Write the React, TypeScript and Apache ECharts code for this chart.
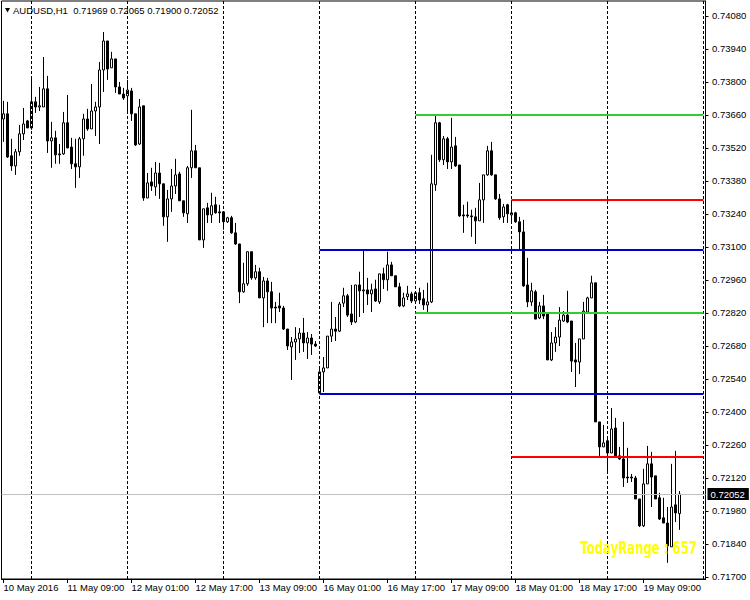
import React, { useEffect, useRef } from "react";
import * as echarts from "echarts";

const symbol = "AUDUSD";
const timeframe = "H1";
const firstBarUtc = Date.UTC(2016, 4, 10, 17);
const weekendSkipFromBar = 79;
const weekendSkipHours = 48;
const emptyBarsRight = 6;

const openP = [
  0.73643, 0.73665, 0.73487, 0.73444, 0.73504, 0.7358, 0.73635, 0.73605, 0.73716, 0.73694,
  0.73694, 0.73771, 0.7355, 0.73563, 0.73495, 0.73495, 0.73627, 0.73524, 0.73453, 0.7344,
  0.73559, 0.73643, 0.73601, 0.73677, 0.73694, 0.73851, 0.73974, 0.7386, 0.73898, 0.73779,
  0.73749, 0.73741, 0.73762, 0.73665, 0.73537, 0.73699, 0.73308, 0.73376, 0.73355, 0.73414,
  0.73368, 0.73228, 0.73304, 0.73359, 0.7341, 0.73296, 0.73241, 0.73436, 0.73508, 0.73436,
  0.7313, 0.73266, 0.73236, 0.73279, 0.73249, 0.73249, 0.73207, 0.73224, 0.7316, 0.73113,
  0.7291, 0.72944, 0.7308, 0.72969, 0.72995, 0.72884, 0.72956, 0.7291, 0.72845, 0.7285,
  0.72841, 0.72752, 0.72676, 0.72697, 0.7271, 0.72735, 0.72693, 0.72714, 0.72688, 0.72481,
  0.7257, 0.72587, 0.72722, 0.72752, 0.72743, 0.72862, 0.72893, 0.72816, 0.72782, 0.72939,
  0.72918, 0.72918, 0.72901, 0.72922, 0.72867, 0.72986, 0.72961, 0.73024, 0.72978, 0.72931,
  0.7285, 0.72889, 0.72901, 0.72871, 0.72906, 0.7288, 0.72854, 0.72867, 0.73364, 0.73627,
  0.7347, 0.73559, 0.73461, 0.73529, 0.73448, 0.73236, 0.73236, 0.73232, 0.73228, 0.73211,
  0.733, 0.73406, 0.73508, 0.73406, 0.73304, 0.73228, 0.73279, 0.73236, 0.73245, 0.73207,
  0.73164, 0.72939, 0.72867, 0.7291, 0.72799, 0.7285, 0.72816, 0.72621, 0.72693, 0.72718,
  0.72786, 0.72811, 0.72786, 0.72621, 0.72612, 0.7271, 0.72824, 0.72884, 0.72948, 0.72358,
  0.72252, 0.72278, 0.72226, 0.72332, 0.72214, 0.72201, 0.72124, 0.72124, 0.7212, 0.72031,
  0.71917, 0.72095, 0.7218, 0.72129, 0.72036, 0.71951, 0.71929, 0.71828, 0.72006, 0.71969,
];

const closeP = [
  0.73665, 0.73482, 0.73444, 0.73504, 0.7358, 0.73622, 0.73605, 0.73716, 0.73694, 0.73699,
  0.73771, 0.7355, 0.73563, 0.73491, 0.73491, 0.73627, 0.7352, 0.73453, 0.7344, 0.73559,
  0.73643, 0.73601, 0.73677, 0.73694, 0.73851, 0.73974, 0.73855, 0.73898, 0.73779, 0.73749,
  0.73732, 0.73766, 0.73665, 0.73533, 0.73694, 0.73308, 0.73372, 0.73359, 0.73414, 0.73368,
  0.73228, 0.73304, 0.73359, 0.73406, 0.73296, 0.73245, 0.73436, 0.73508, 0.73436, 0.7313,
  0.73262, 0.73236, 0.73275, 0.73245, 0.73245, 0.73207, 0.73224, 0.7316, 0.73113, 0.7291,
  0.72944, 0.7308, 0.72969, 0.72995, 0.72884, 0.72956, 0.7291, 0.72841, 0.72841, 0.72841,
  0.72752, 0.7268, 0.72697, 0.7271, 0.72735, 0.72693, 0.72714, 0.72688, 0.7268, 0.7257,
  0.72587, 0.72722, 0.72752, 0.72743, 0.72858, 0.72893, 0.72811, 0.72782, 0.72939, 0.72914,
  0.72914, 0.72901, 0.72918, 0.72871, 0.72986, 0.72961, 0.73024, 0.72978, 0.72931, 0.7285,
  0.72884, 0.72901, 0.72871, 0.72906, 0.72875, 0.72854, 0.72867, 0.73368, 0.73627, 0.7347,
  0.73559, 0.73461, 0.73524, 0.73444, 0.73232, 0.73232, 0.73232, 0.73228, 0.73211, 0.733,
  0.73406, 0.73508, 0.73406, 0.73304, 0.73224, 0.7327, 0.73241, 0.73245, 0.73207, 0.73164,
  0.72935, 0.72867, 0.72914, 0.72794, 0.7285, 0.72807, 0.72621, 0.72693, 0.72718, 0.7279,
  0.72811, 0.72782, 0.72616, 0.72612, 0.7271, 0.72828, 0.72884, 0.72948, 0.72358, 0.72252,
  0.72269, 0.72226, 0.72328, 0.72209, 0.72201, 0.7212, 0.7212, 0.7212, 0.72031, 0.71917,
  0.72095, 0.7218, 0.72124, 0.72031, 0.71946, 0.71929, 0.71832, 0.71997, 0.71972, 0.72052,
];

const highP = [
  0.7372, 0.73716, 0.73559, 0.73516, 0.73618, 0.7369, 0.73639, 0.73813, 0.73737, 0.73779,
  0.73906, 0.73826, 0.73631, 0.73593, 0.73537, 0.73673, 0.73745, 0.73563, 0.73559, 0.73567,
  0.73665, 0.73686, 0.73792, 0.73716, 0.73885, 0.74012, 0.73974, 0.73928, 0.73898, 0.738,
  0.73775, 0.73809, 0.73775, 0.73665, 0.73728, 0.73699, 0.73414, 0.73436, 0.73461, 0.73457,
  0.73368, 0.73342, 0.73431, 0.73474, 0.73419, 0.73296, 0.73444, 0.73682, 0.73533, 0.73436,
  0.73262, 0.73287, 0.7333, 0.73313, 0.73279, 0.73249, 0.73228, 0.73232, 0.73202, 0.73113,
  0.73033, 0.7308, 0.7308, 0.73024, 0.73012, 0.72973, 0.72969, 0.72952, 0.72867, 0.72906,
  0.7285, 0.72752, 0.72718, 0.7276, 0.72756, 0.72799, 0.72739, 0.72731, 0.72701, 0.72591,
  0.72633, 0.72722, 0.72867, 0.72803, 0.72867, 0.72927, 0.72901, 0.72939, 0.72939, 0.72995,
  0.73087, 0.72969, 0.72944, 0.72961, 0.72986, 0.73012, 0.7308, 0.73037, 0.72978, 0.72948,
  0.72906, 0.72935, 0.7291, 0.72906, 0.72927, 0.72918, 0.72948, 0.73491, 0.7366, 0.73631,
  0.73571, 0.73567, 0.73648, 0.73567, 0.73448, 0.73279, 0.73292, 0.73258, 0.73266, 0.73372,
  0.73406, 0.73529, 0.73546, 0.73406, 0.73325, 0.73283, 0.73283, 0.73299, 0.73249, 0.73228,
  0.73215, 0.73054, 0.72948, 0.72918, 0.72867, 0.72897, 0.72816, 0.72739, 0.7276, 0.72845,
  0.72828, 0.72914, 0.72786, 0.72693, 0.7271, 0.72867, 0.72889, 0.72978, 0.72948, 0.72358,
  0.72345, 0.7229, 0.72417, 0.72375, 0.72252, 0.72358, 0.72248, 0.72137, 0.72129, 0.72031,
  0.72159, 0.72256, 0.72231, 0.72129, 0.72057, 0.72036, 0.71997, 0.7218, 0.72235, 0.72065,
];

const lowP = [
  0.73546, 0.73478, 0.73423, 0.73406, 0.73487, 0.73554, 0.73605, 0.73597, 0.73669, 0.73677,
  0.73694, 0.73499, 0.73436, 0.73453, 0.73453, 0.73491, 0.7352, 0.73431, 0.73351, 0.73393,
  0.73487, 0.73593, 0.73601, 0.73571, 0.73537, 0.73758, 0.73809, 0.7386, 0.73754, 0.73749,
  0.73724, 0.73673, 0.73635, 0.73529, 0.73533, 0.73296, 0.73308, 0.73338, 0.73317, 0.73304,
  0.7319, 0.73122, 0.73249, 0.73325, 0.73296, 0.73228, 0.73202, 0.73393, 0.73436, 0.7313,
  0.73096, 0.73202, 0.73202, 0.73241, 0.73202, 0.73173, 0.73202, 0.73156, 0.73109, 0.72862,
  0.72906, 0.72935, 0.72961, 0.72961, 0.72884, 0.7276, 0.72777, 0.72777, 0.72777, 0.72824,
  0.72748, 0.72663, 0.72536, 0.72621, 0.7265, 0.72655, 0.72625, 0.72642, 0.72676, 0.72476,
  0.72485, 0.72587, 0.72697, 0.72701, 0.72739, 0.72845, 0.72803, 0.72769, 0.72777, 0.72803,
  0.7282, 0.72854, 0.72824, 0.72867, 0.72858, 0.72922, 0.72914, 0.72978, 0.72931, 0.72845,
  0.72845, 0.72875, 0.72862, 0.72862, 0.72858, 0.72833, 0.7282, 0.72862, 0.73338, 0.73461,
  0.73448, 0.73431, 0.73431, 0.7344, 0.73228, 0.7316, 0.73224, 0.73143, 0.73113, 0.73211,
  0.73202, 0.73402, 0.73402, 0.733, 0.73215, 0.73202, 0.73202, 0.73207, 0.73202, 0.73088,
  0.72931, 0.72845, 0.7285, 0.72794, 0.72794, 0.72794, 0.72621, 0.72616, 0.72655, 0.7268,
  0.72782, 0.72777, 0.7257, 0.72506, 0.72561, 0.7271, 0.7282, 0.72884, 0.72358, 0.72209,
  0.72252, 0.72141, 0.72226, 0.72209, 0.72197, 0.72082, 0.72099, 0.72103, 0.72031, 0.71912,
  0.71912, 0.72095, 0.71997, 0.72031, 0.71942, 0.71929, 0.7176, 0.71828, 0.71933, 0.719,
];

const priceTicks = [
  0.717, 0.7184, 0.7198, 0.7212, 0.7226, 0.724, 0.7254, 0.7268, 0.7282,
  0.7296, 0.731, 0.7324, 0.7338, 0.7352, 0.7366, 0.738, 0.7394, 0.7408,
];

// days whose high/low levels are drawn (index in the list of day starts)
const levelDays = [3, 4, 5];
const levelColors = ["#0000CD", "#32CD32", "#FF0000"];

const MONTHS = ["Jan", "Feb", "Mar", "Apr", "May", "Jun", "Jul", "Aug", "Sep", "Oct", "Nov", "Dec"];
const pad = (n: number) => (n < 10 ? "0" + n : "" + n);

const barDates: Date[] = [];
for (let i = 0; i < openP.length + emptyBarsRight; i++) {
  const h = i + (i >= weekendSkipFromBar ? weekendSkipHours : 0);
  barDates.push(new Date(firstBarUtc + h * 3600000));
}
const categories = barDates.map(
  (d) => `${d.getUTCDate()} ${MONTHS[d.getUTCMonth()]} ${pad(d.getUTCHours())}:${pad(d.getUTCMinutes())}`
);
const firstLabel = `${barDates[0].getUTCDate()} ${MONTHS[barDates[0].getUTCMonth()]} ${barDates[0].getUTCFullYear()}`;
const dayStarts = barDates.map((d, i) => (d.getUTCHours() === 0 ? i : -1)).filter((i) => i >= 0);

const f5 = (v: number) => v.toFixed(5);

export default function App() {
  const ref = useRef<HTMLDivElement>(null);
  useEffect(() => {
    if (!ref.current) return;
    const chart = echarts.init(ref.current, undefined, { renderer: "svg" });
    const n = openP.length;
    const lastIdx = categories.length - 1;
    const last = n - 1;

    const levelLines: any[] = [];
    levelDays.forEach((di, k) => {
      const s = dayStarts[di];
      const e = Math.min(dayStarts[di + 1] ?? n, n);
      let hi = -Infinity;
      let lo = Infinity;
      for (let i = s; i < e; i++) {
        hi = Math.max(hi, highP[i]);
        lo = Math.min(lo, lowP[i]);
      }
      [hi, lo].forEach((v) => {
        levelLines.push([
          { coord: [categories[s], v], lineStyle: { color: levelColors[k], width: 2, type: "solid" } },
          { coord: [categories[lastIdx], v] },
        ]);
      });
    });

    const todayStart = dayStarts.filter((i) => i < n).slice(-1)[0];
    let tHi = -Infinity;
    let tLo = Infinity;
    for (let i = todayStart; i < n; i++) {
      tHi = Math.max(tHi, highP[i]);
      tLo = Math.min(tLo, lowP[i]);
    }
    const todayRange = Math.round((tHi - tLo) * 100000);

    const header = `${symbol},${timeframe}  ${f5(openP[last])} ${f5(highP[last])} ${f5(lowP[last])} ${f5(closeP[last])}`;
    const font = '"Liberation Sans", Arial, sans-serif';

    chart.setOption({
      animation: false,
      backgroundColor: "#ffffff",
      grid: { left: 1.5, right: 44.5, top: 1, bottom: 21, show: true, borderColor: "#000", borderWidth: 1, backgroundColor: "#fff" },
      xAxis: {
        type: "category",
        data: categories,
        boundaryGap: true,
        axisLine: { show: true, lineStyle: { color: "#000", width: 1 } },
        axisTick: { show: true, interval: 15, length: 4, alignWithLabel: true, lineStyle: { color: "#000" } },
        axisLabel: {
          interval: 15,
          align: "left",
          margin: 3,
          fontSize: 9.5,
          fontFamily: font,
          color: "#000",
          formatter: (v: string, idx: number) => (idx === 0 ? firstLabel : v),
        },
        splitLine: { show: false },
      },
      yAxis: {
        type: "value",
        position: "right",
        min: 0.716915,
        max: 0.741436,
        axisLine: { show: true, lineStyle: { color: "#000", width: 1 } },
        axisTick: { show: true, length: 3, customValues: priceTicks, lineStyle: { color: "#000" } },
        axisLabel: {
          customValues: priceTicks,
          formatter: (v: number) => f5(v),
          fontSize: 9.5,
          fontFamily: font,
          color: "#000",
          margin: 6.5,
        },
        splitLine: { show: false },
      },
      series: [
        {
          type: "line",
          data: [],
          silent: true,
          z: 1,
          markLine: {
            silent: true,
            precision: 5,
            symbol: ["none", "none"],
            emphasis: { disabled: true },
            data: [
              {
                yAxis: closeP[last],
                lineStyle: { color: "#c0c0c0", width: 1, type: "solid" },
                label: {
                  show: true,
                  position: "end",
                  distance: 2,
                  formatter: f5(closeP[last]),
                  color: "#fff",
                  backgroundColor: "#000",
                  padding: [1, 4, 1, 3],
                  fontSize: 9.5,
                  fontFamily: font,
                },
              },
            ],
          },
        },
        {
          type: "candlestick",
          z: 2,
          data: openP.map((o, i) => [o, closeP[i], lowP[i], highP[i]]),
          barWidth: 2,
          itemStyle: {
            color: "#ffffff",
            color0: "#000000",
            borderColor: "#000000",
            borderColor0: "#000000",
            borderColorDoji: "#000000",
            borderWidth: 1,
          },
          emphasis: { disabled: true },
          markLine: {
            silent: true,
            precision: 5,
            symbol: ["none", "none"],
            label: { show: false },
            emphasis: { disabled: true },
            data: [
              ...dayStarts.map((i) => ({
                xAxis: categories[i],
                lineStyle: { color: "#000", width: 1, type: [3, 2] },
              })),
              ...levelLines,
            ],
          },
        },
      ],
      graphic: [
        { type: "polygon", shape: { points: [[5, 8], [10, 8], [7.5, 12.5]] }, style: { fill: "#000" }, z: 100 },
        {
          type: "text",
          x: 13,
          y: 10,
          z: 100,
          style: { text: header, fill: "#000", font: `9.5px ${font}`, verticalAlign: "middle" },
        },
        {
          type: "text",
          x: 697,
          y: 548,
          z: 100,
          scaleX: 0.65,
          style: {
            text: `TodayRange : ${todayRange}`,
            fill: "#ffff00",
            font: 'bold 18px "DejaVu Sans", sans-serif',
            align: "right",
            verticalAlign: "middle",
          },
        },
      ],
    });
    return () => chart.dispose();
  }, []);
  return (
    <div
      ref={ref}
      style={{ position: "absolute", left: 0, top: 0, width: 750, height: 600, background: "#fff" }}
    />
  );
}
